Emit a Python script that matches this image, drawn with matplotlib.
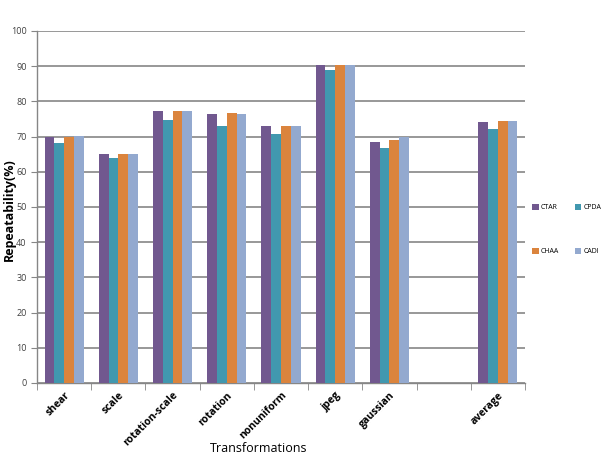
import numpy as np
import matplotlib
matplotlib.use("Agg")
import matplotlib.pyplot as plt

plt.rcParams["font.family"] = ["Open Sans", "DejaVu Sans"]

# ── données ────────────────────────────────────────────────────────────────
categories = ["shear", "scale", "rotation-scale", "rotation", "nonuniform",
              "jpeg", "gaussian", "", "average"]
series_names = ["CTAR", "CPDA", "CHAA", "CADI"]

ctar = [70.0, 65.0, 77.3, 76.5, 73.1, 90.4, 68.6, np.nan, 74.2]
cpda = [68.2, 63.8, 74.8, 73.1, 70.8, 89.0, 66.9, np.nan, 72.2]
chaa = [70.0, 65.0, 77.3, 76.8, 73.1, 90.4, 68.9, np.nan, 74.5]
cadi = [70.2, 65.0, 77.3, 76.5, 73.1, 90.4, 70.0, np.nan, 74.5]

colors = ["#71588F", "#4198AF", "#DB843D", "#93A9CF"]

# ── tracé ──────────────────────────────────────────────────────────────────
fig = plt.figure(figsize=(6.06, 4.54), dpi=100)
ax = fig.add_axes([37 / 606, 1 - 383 / 454, (525 - 37) / 606, (383 - 31) / 454])

x = np.arange(len(categories))
width = 0.18
bars = []
for i, (name, vals) in enumerate(zip(series_names, [ctar, cpda, chaa, cadi])):
    b = ax.bar(x + (i - 1.5) * width, vals, width, color=colors[i], label=name,
               zorder=3)
    bars.append(b)

ax.set_xlim(-0.5, len(categories) - 0.5)
ax.set_ylim(0, 100)
ax.set_yticks(np.arange(0, 101, 10))
ax.grid(axis="y", color="#868686", linewidth=1.2, zorder=0)

for s in ["top", "right"]:
    ax.spines[s].set_visible(False)
for s in ["left", "bottom"]:
    ax.spines[s].set_color("#868686")
    ax.spines[s].set_linewidth(1.0)

ax.set_xticks(x)
ax.set_xticklabels(categories, rotation=45, ha="right", rotation_mode="anchor",
                   fontsize=7.5, fontweight="bold")
ax.set_xticks(np.arange(-0.5, len(categories), 1), minor=True)
ax.tick_params(axis="x", which="major", length=0, pad=5)
ax.tick_params(axis="x", which="minor", length=5, color="#868686")
ax.tick_params(axis="y", length=4, color="#868686", labelsize=6.5,
               labelcolor="#404040")

# titres d'axes placés à la main (comme dans la référence)
fig.text(9 / 606, 1 - 210 / 454, "Repeatability(%)", rotation=90,
         ha="center", va="center", fontsize=9, fontweight="bold")
fig.text(259 / 606, 1 - 448 / 454, "Transformations",
         ha="center", va="center", fontsize=9)

# légende en lignes : CTAR CPDA / CHAA CADI
order = [0, 2, 1, 3]
fig.legend([bars[i] for i in order], [series_names[i] for i in order],
           loc="center left", bbox_to_anchor=(526 / 606, 1 - 229.5 / 454),
           ncol=2, fontsize=5, frameon=False, handlelength=0.9,
           handleheight=0.9, handletextpad=0.3, columnspacing=2.3,
           labelspacing=5.3)

fig.savefig("out.png", dpi=100)
